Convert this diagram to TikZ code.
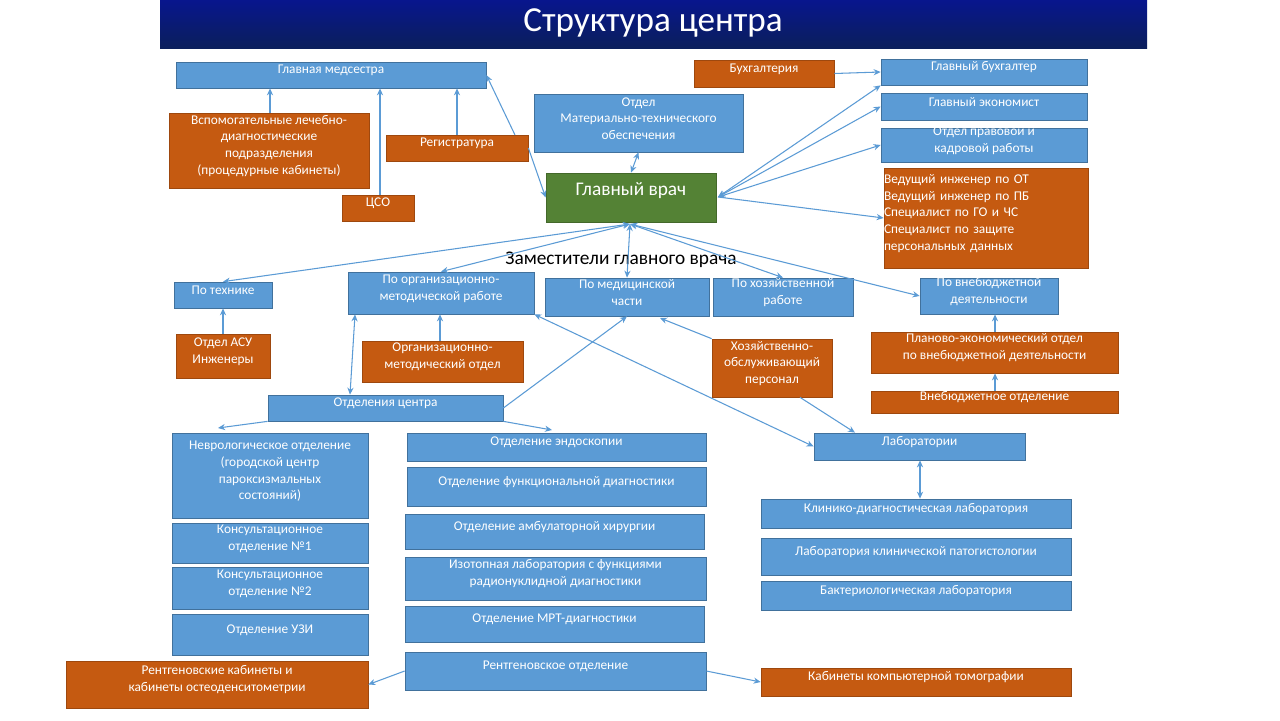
\documentclass[tikz,border=0pt]{standalone}
\usepackage{fontspec}
\setmainfont{Carlito}
\usetikzlibrary{fit,arrows.meta}
\definecolor{bluebox}{HTML}{5B9BD5}
\definecolor{blueline}{HTML}{41719C}
\definecolor{orangebox}{HTML}{C55A11}
\definecolor{greenbox}{HTML}{548235}
\definecolor{navy}{HTML}{0B1F5C}
\tikzset{
  bbox/.style={draw=blueline, fill=bluebox, text=white, inner sep=0, align=center, font=\fontsize{7.6}{9.6}\selectfont},
  obox/.style={bbox, draw=orangebox!80!black, fill=orangebox},
  link/.style={draw=bluebox, line width=0.6pt, -{Stealth[length=4pt,width=3.5pt]}},
  dlink/.style={link, {Stealth[length=4pt,width=3.5pt]}-{Stealth[length=4pt,width=3.5pt]}},
}
\begin{document}
\begin{tikzpicture}[x=0.02cm, y=-0.02cm]
  \useasboundingbox[fill=white] (0,0) rectangle (1280,720);
  % title
  \shade[top color=navy!70!blue, bottom color=navy, drop shadow/.try] (160,0) rectangle (1147,48);
  \node[text=white, font=\fontsize{20}{24}\selectfont] (title) at (653,23) {Структура центра};

  % top block
  \node[bbox, fit={(176,62)(486,88)}] (nurse) {Главная медсестра};
  \node[obox, fit={(694,60)(834,87)}] (acc) {Бухгалтерия};
  \node[bbox, fit={(881,59)(1087,85)}] (chacc) {Главный бухгалтер};
  \node[bbox, fit={(881,93)(1087,120)}] (econ) {Главный экономист};
  \node[bbox, fit={(881,128)(1087,162)}] (law) {Отдел правовой и\\кадровой работы};
  \node[obox, fit={(884,168)(1088,268)}, align=left] (safety) {Ведущий инженер по ОТ\\Ведущий инженер по ПБ\\Специалист по ГО и ЧС\\Специалист по защите\\персональных данных};
  \node[bbox, fit={(534,94)(743,152)}] (mto) {Отдел\\Материально-технического\\обеспечения};
  \node[obox, fit={(169,113)(369,188)}] (aux) {Вспомогательные лечебно-\\диагностические\\подразделения\\(процедурные кабинеты)};
  \node[obox, fit={(386,135)(528,161)}] (reg) {Регистратура};
  \node[obox, fit={(342,195)(414,221)}] (cso) {ЦСО};
  \node[draw=greenbox!80!black, fill=greenbox, text=white, inner sep=0, font=\fontsize{11}{13}\selectfont, fit={(546,173)(716,222)}] (chief) {Главный врач};
  \node[font=\fontsize{11}{13}\selectfont] (deps) at (621,260) {Заместители главного врача};

  % deputies
  \node[bbox, fit={(174,282)(272,308)}] (tech) {По технике};
  \node[bbox, fit={(348,272)(534,314)}] (org) {По организационно-\\методической работе};
  \node[bbox, fit={(545,278)(709,316)}] (med) {По медицинской\\части};
  \node[bbox, fit={(713,278)(853,316)}] (hoz) {По хозяйственной\\работе};
  \node[bbox, fit={(920,278)(1058,314)}] (extra) {По внебюджетной\\деятельности};
  \node[obox, fit={(176,334)(270,378)}] (asu) {Отдел АСУ\\Инженеры};
  \node[obox, fit={(362,341)(523,382)}] (orgdep) {Организационно-\\методический отдел};
  \node[obox, fit={(712,339)(832,397)}] (staff) {Хозяйственно-\\обслуживающий\\персонал};
  \node[obox, fit={(871,332)(1118,373)}] (plan) {Планово-экономический отдел\\по внебюджетной деятельности};
  \node[obox, fit={(871,391)(1118,413)}] (extradep) {Внебюджетное отделение};

  % departments
  \node[bbox, fit={(268,395)(503,421)}] (depts) {Отделения центра};
  \node[bbox, fit={(814,433)(1025,460)}] (labs) {Лаборатории};
  \node[bbox, fit={(172,433)(368,518)}] (neuro) {Неврологическое отделение\\(городской центр\\пароксизмальных\\состояний)};
  \node[bbox, fit={(172,523)(368,563)}] (cons1) {Консультационное\\отделение №1};
  \node[bbox, fit={(172,567)(368,609)}] (cons2) {Консультационное\\отделение №2};
  \node[bbox, fit={(172,614)(368,655)}] (uzi) {Отделение УЗИ};
  \node[bbox, fit={(407,433)(706,461)}] (endo) {Отделение эндоскопии};
  \node[bbox, fit={(407,467)(706,506)}] (func) {Отделение функциональной диагностики};
  \node[bbox, fit={(405,514)(704,549)}] (surg) {Отделение амбулаторной хирургии};
  \node[bbox, fit={(405,557)(706,600)}] (iso) {Изотопная лаборатория с функциями\\радионуклидной диагностики};
  \node[bbox, fit={(405,606)(704,642)}] (mrt) {Отделение МРТ-диагностики};
  \node[bbox, fit={(405,652)(706,690)}] (xray) {Рентгеновское отделение};
  \node[obox, fit={(66,661)(368,708)}] (xroom) {Рентгеновские кабинеты и\\кабинеты остеоденситометрии};
  \node[obox, fit={(761,668)(1071,696)}] (ct) {Кабинеты компьютерной томографии};
  \node[bbox, fit={(761,499)(1071,528)}] (clin) {Клинико-диагностическая лаборатория};
  \node[bbox, fit={(761,538)(1071,575)}] (pato) {Лаборатория клинической патогистологии};
  \node[bbox, fit={(761,581)(1071,610)}] (bact) {Бактериологическая лаборатория};

  % links to the head nurse
  \draw[link] (aux.north -| 270,0) -- (nurse.south -| 270,0);
  \draw[link] (cso.north -| 380,0) -- (nurse.south -| 380,0);
  \draw[link] (reg.north -| 457,0) -- (nurse.south -| 457,0);
  \draw[link] (515,135) -- (nurse.east);
  \draw[link] (reg.east) -- (chief.west);
  \draw[dlink] (mto.south) -- (chief.north);
  \draw[link] (acc.east) -- (chacc.west);
  % chief to right column
  \coordinate (cr) at (718,197);
  \draw[dlink] (cr) -- (chacc.south west);
  \draw[dlink] (cr) -- (econ.west);
  \draw[dlink] (cr) -- (law.west);
  \draw[link] (cr) -- (safety.west);
  % chief to deputies
  \coordinate (cb) at (630,224);
  \draw[dlink] (cb) -- (tech.north);
  \draw[dlink] (cb) -- (org.north);
  \draw[dlink] (cb) -- (med.north);
  \draw[dlink] (cb) -- (hoz.north);
  \draw[dlink] (cb) -- (extra.west);
  % deputies below
  \draw[link] (asu.north) -- (tech.south);
  \draw[link] (orgdep.north -| 440,0) -- (org.south -| 440,0);
  \draw[link] (staff.north west) -- (660,318);
  \draw[link] (staff.south -| 800,0) -- (labs.north -| 855,0);
  \draw[link] (plan.north -| 995,0) -- (extra.south -| 995,0);
  \draw[link] (extradep.north -| 995,0) -- (plan.south -| 995,0);
  \draw[dlink] (org.south -| 355,0) -- (depts.north -| 350,0);
  \draw[link] (depts.east) -- (med.south);
  \draw[link] (depts.south west) -- (218,428);
  \draw[link] (depts.south east) -- (552,430);
  \draw[dlink] (org.south east) -- (labs.west);
  \draw[dlink] (labs.south -| 920,0) -- (clin.north -| 920,0);
  \draw[link] (xray.west) -- (xroom.east);
  \draw[link] (xray.east) -- (ct.west);
\end{tikzpicture}
\end{document}
